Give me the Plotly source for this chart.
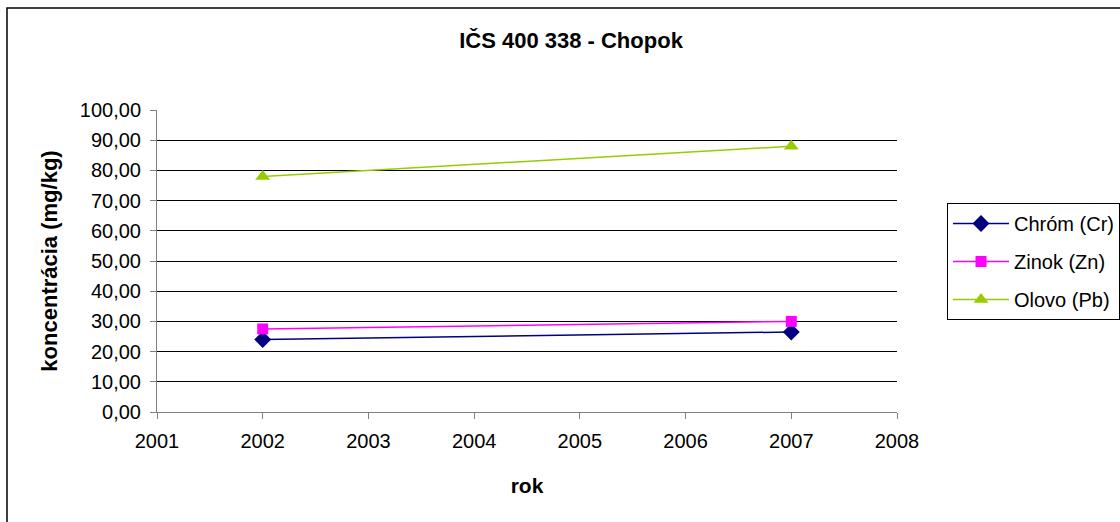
import plotly.graph_objects as go

years = [2002, 2007]
chrom = [24.0, 26.5]
zinok = [27.5, 30.0]
olovo = [78.0, 88.0]

series = [
    ("Chróm (Cr)", chrom, "#000080", "diamond", 13),
    ("Zinok (Zn)", zinok, "#FF00FF", "square", 11),
    ("Olovo (Pb)", olovo, "#99CC00", "triangle-up", 13),
]

fig = go.Figure()
for name, vals, color, symbol, size in series:
    fig.add_trace(go.Scatter(
        x=years, y=vals, name=name, mode="lines+markers", legendgroup=name,
        line=dict(color=color, width=1.5),
        marker=dict(symbol=symbol, size=size, color=color),
    ))

L, R, T, B = 157, 897, 110, 412
W, H = 1120, 522

def px(xp):
    return (xp - L) / (R - L)

def py(yp):
    return (B - yp) / (B - T)

fig.update_layout(
    width=W, height=H,
    margin=dict(l=L, r=W - R, t=T, b=H - B, pad=0, autoexpand=False),
    paper_bgcolor="white", plot_bgcolor="white",
    font=dict(family="Liberation Sans, Arial, sans-serif", size=20, color="black"),
    separators=", ",
    title=dict(text="<b>IČS 400 338 - Chopok</b>", x=px(571), xref="paper",
               xanchor="center", y=1 - 40 / H, yanchor="middle",
               font=dict(size=22)),
    xaxis=dict(range=[2001, 2008], dtick=1, tick0=2001, showgrid=False,
               showline=True, linecolor="#808080", linewidth=1,
               ticks="outside", ticklen=6, tickcolor="#808080",
               tickfont=dict(size=20), zeroline=False, ticklabelstandoff=5,
               title=dict(text="<b>rok</b>", font=dict(size=21), standoff=27)),
    yaxis=dict(range=[0, 100], dtick=10, tickformat=".2f",
               showgrid=True, gridcolor="black", gridwidth=1,
               showline=True, linecolor="#808080", linewidth=1,
               ticks="outside", ticklen=6, tickcolor="#808080",
               tickfont=dict(size=20), zeroline=False, ticklabelstandoff=5,
               title=dict(text="<b>koncentrácia (mg/kg)</b>", font=dict(size=22), standoff=16)),
    legend=dict(x=px(947), y=py(203), xanchor="left", yanchor="top",
                bordercolor="black", borderwidth=1, bgcolor="white",
                font=dict(size=20), traceorder="grouped", tracegroupgap=9,
                itemwidth=56),
    showlegend=True,
)

# outer chart frame
fig.add_shape(type="rect", xref="paper", yref="paper",
              x0=px(7), x1=px(1140), y0=py(540), y1=py(8),
              line=dict(color="black", width=1.5), fillcolor="rgba(0,0,0,0)", layer="below")

fig.write_html("out.html")
